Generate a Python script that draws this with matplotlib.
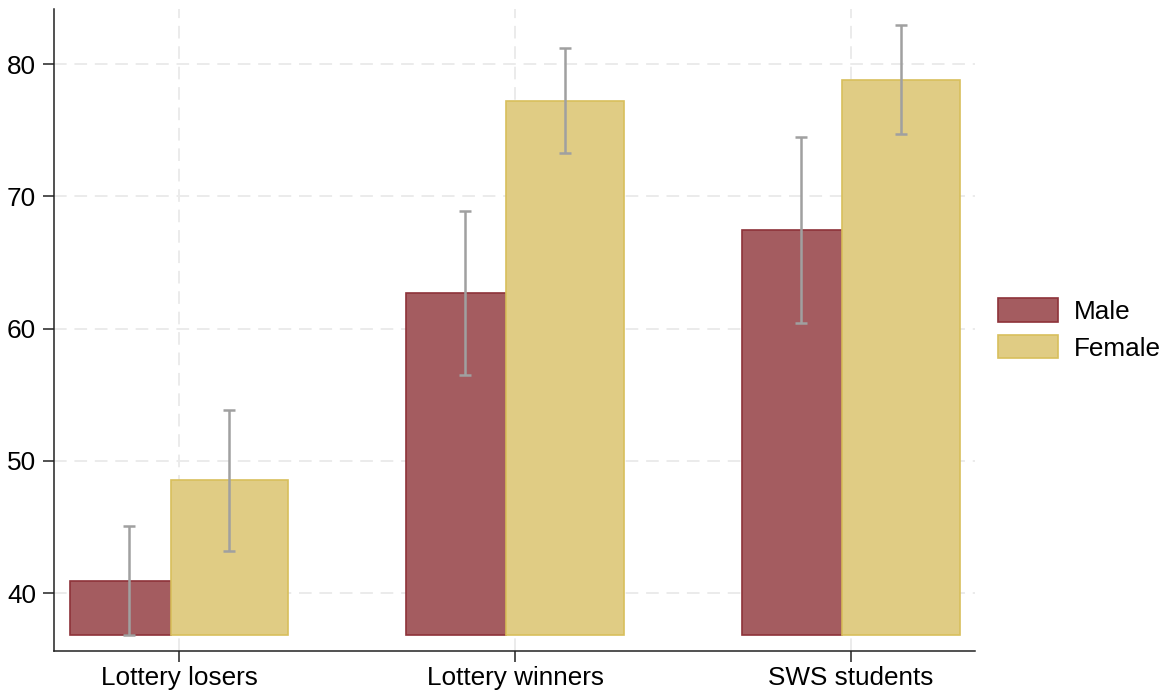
import matplotlib
matplotlib.use("Agg")
import matplotlib.pyplot as plt
import numpy as np

categories = ["Lottery losers", "Lottery winners", "SWS students"]
male_mean = [40.93, 62.66, 67.45]
male_lo = [36.83, 56.48, 60.46]
male_hi = [45.09, 68.91, 74.48]
female_mean = [48.54, 77.20, 78.77]
female_lo = [43.20, 73.27, 74.71]
female_hi = [53.89, 81.19, 82.92]
series_labels = ["Male", "Female"]
yticks = [40, 50, 60, 70, 80]
bar_base = 36.85

plt.rcParams['font.family'] = ['Liberation Sans', 'DejaVu Sans']
FS = 18.8

fig = plt.figure(figsize=(11.69, 6.96), dpi=100)
ax = fig.add_axes([54/1169, 1-651/696, 921/1169, 642/696])

x = np.arange(1, len(categories) + 1)
width = 0.351
off = 0.149

male_fill, male_edge = "#a45c60", "#8e3239"
fem_fill, fem_edge = "#e0cc84", "#d8bf5c"
err_col = "#a0a0a0"

mm = np.array(male_mean); fm = np.array(female_mean)
# male bar is partially hidden behind the female bar: draw only its visible part
ax.bar(x - off - width / 2, mm - bar_base, bottom=bar_base, width=2 * off, align='edge',
       color=male_fill, edgecolor=male_edge, linewidth=1.2, label=series_labels[0], zorder=2)
ax.bar(x + off, fm - bar_base, bottom=bar_base, width=width, color=fem_fill,
       edgecolor=fem_edge, linewidth=1.2, label=series_labels[1], zorder=3)

for xs, m, lo, hi in [(x - off, mm, male_lo, male_hi), (x + off, fm, female_lo, female_hi)]:
    lo = np.array(lo); hi = np.array(hi)
    ax.errorbar(xs, m, yerr=[m - lo, hi - m], fmt='none', ecolor=err_col,
                elinewidth=1.8, capsize=4.5, capthick=1.8, zorder=4)

ax.set_xlim(0.6265, 3.369)
ax.set_ylim(35.64, 84.16)
ax.set_yticks(yticks)
ax.set_xticks(x)
ax.set_xticklabels(categories)

ax.grid(True, color="#ebebeb", linestyle=(0, (6.5, 4)), linewidth=1.4, zorder=0)
ax.set_axisbelow(True)
for s in ["top", "right"]:
    ax.spines[s].set_visible(False)
for s in ["left", "bottom"]:
    ax.spines[s].set_linewidth(1.1)
    ax.spines[s].set_color("#222222")

ax.tick_params(axis='both', labelsize=FS, length=8, width=1.1, color="#222222")
ax.tick_params(axis='y', pad=5)
ax.tick_params(axis='x', pad=3)

fig.legend(loc='center left', bbox_to_anchor=(998/1169, 1-329.5/696),
           frameon=False, fontsize=FS, handlelength=2.3, handleheight=1.0,
           handletextpad=0.6, labelspacing=0.42, borderpad=0, borderaxespad=0)

fig.savefig("out.png", dpi=100)
